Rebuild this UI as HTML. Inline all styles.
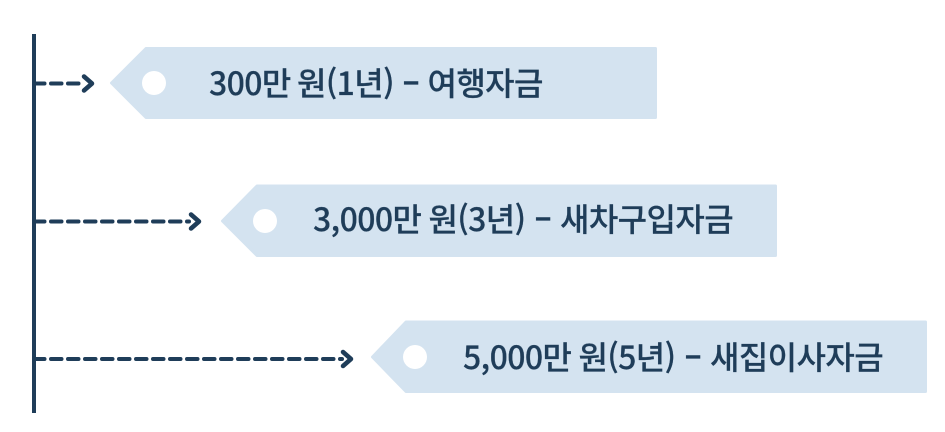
<!DOCTYPE html>
<html lang="ko">
<head>
<meta charset="utf-8">
<style>
html,body{margin:0;padding:0;background:#fff;width:945px;height:432px;overflow:hidden}
svg{display:block}
text{font-family:"Noto Sans CJK KR",sans-serif;font-size:32px;font-weight:500;fill:#1f3d59;stroke:#1f3d59;stroke-width:.2px;letter-spacing:-0.6px}
.b{font-weight:700}
.d{stroke:#1f3d59;stroke-width:4;stroke-linecap:round;fill:none;stroke-dasharray:10.500 6.500;stroke-dashoffset:2}
.h{stroke:#1f3d59;stroke-width:4.500;stroke-linecap:round;stroke-linejoin:round;fill:none}
.t{fill:#d4e3f0;stroke:#d4e3f0;stroke-width:3;stroke-linejoin:round}
</style>
</head>
<body>
<svg width="945" height="432" viewBox="0 0 945 432" xmlns="http://www.w3.org/2000/svg">
<rect x="32" y="34" width="4" height="379" fill="#1f3d59"/>

<path class="d" d="M36 83.500H82"/>
<path class="h" d="M84 76.500L92 83.500L84 90.500"/>
<path class="t" d="M111.500 83L146 48.500H655.500V117.500H146Z"/>
<circle cx="154" cy="83" r="12" fill="#fff"/>
<text y="95"><tspan x="209">300만 </tspan><tspan x="297">원(1년) </tspan><tspan class="b" x="402.500">– </tspan><tspan x="427.500">여행자금</tspan></text>

<path class="d" d="M36 221.500H189"/>
<path class="h" d="M191 214.500L199 221.500L191 228.500"/>
<path class="t" d="M222.500 221L257 186H775.500V255.500H257Z"/>
<circle cx="265" cy="221" r="12" fill="#fff"/>
<text y="231"><tspan x="313">3,000만 </tspan><tspan x="428.500">원(3년) </tspan><tspan class="b" x="534.500">– </tspan><tspan x="560">새차구입자금</tspan></text>

<path class="d" d="M36 359H342"/>
<path class="h" d="M343 352L351 359L343 366"/>
<path class="t" d="M372.500 357L406 322H925.500V391.500H406Z"/>
<circle cx="415" cy="357" r="12" fill="#fff"/>
<text y="369"><tspan x="463">5,000만 </tspan><tspan x="578.500">원(5년) </tspan><tspan class="b" x="684.500">– </tspan><tspan x="710">새집이사자금</tspan></text>
</svg>
</body>
</html>
